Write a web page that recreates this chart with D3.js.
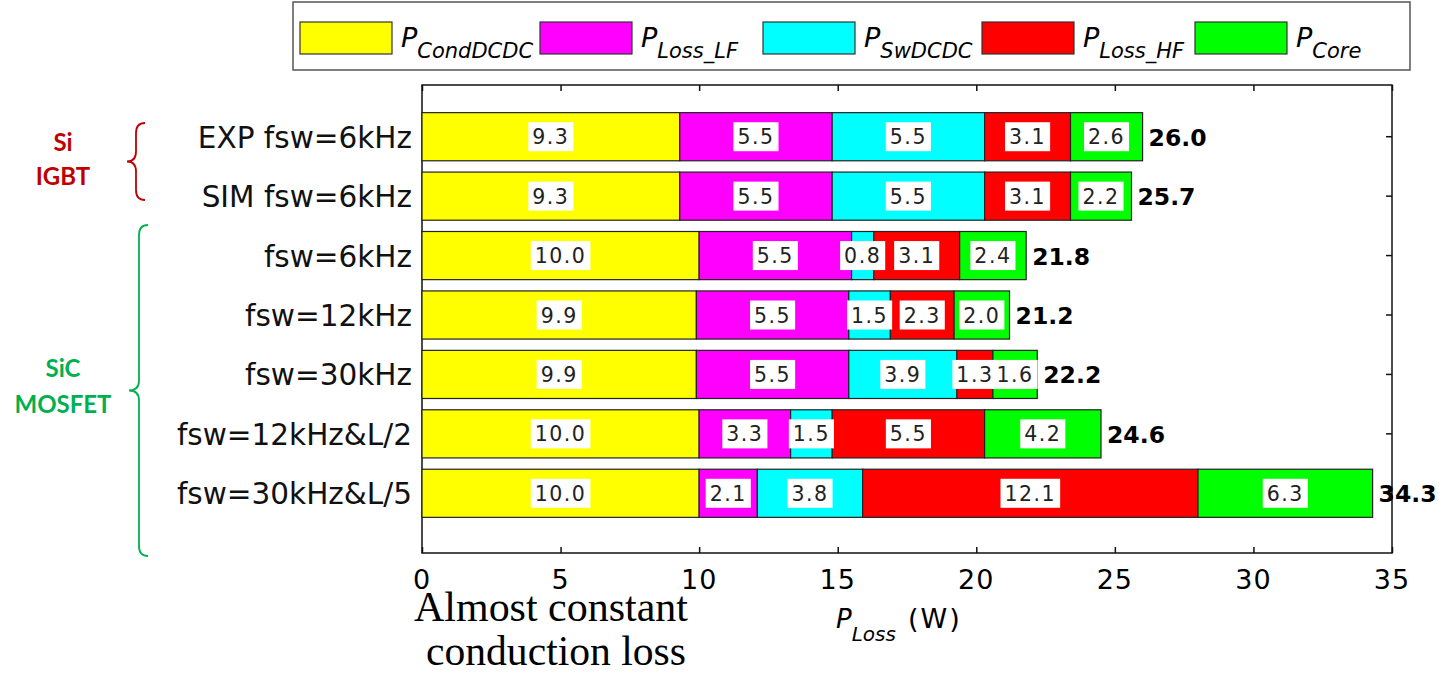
<!DOCTYPE html>
<html>
<head>
<meta charset="utf-8">
<script src="https://cdn.jsdelivr.net/npm/d3@7"></script>
<style>
  body { margin: 0; background: #fff; }
  .sans { font-family: "DejaVu Sans", Verdana, sans-serif; }
</style>
</head>
<body>
<div id="chart"></div>
<script>
const W = 1439, H = 677;

const categories = ["EXP fsw=6kHz", "SIM fsw=6kHz", "fsw=6kHz", "fsw=12kHz", "fsw=30kHz", "fsw=12kHz&L/2", "fsw=30kHz&L/5"];
const condDCDC = [9.3, 9.3, 10.0, 9.9, 9.9, 10.0, 10.0];
const lossLF   = [5.5, 5.5, 5.5, 5.5, 5.5, 3.3, 2.1];
const swDCDC   = [5.5, 5.5, 0.8, 1.5, 3.9, 1.5, 3.8];
const lossHF   = [3.1, 3.1, 3.1, 2.3, 1.3, 5.5, 12.1];
const core     = [2.6, 2.2, 2.4, 2.0, 1.6, 4.2, 6.3];
const totals   = [26.0, 25.7, 21.8, 21.2, 22.2, 24.6, 34.3];
const xTicks = [0, 5, 10, 15, 20, 25, 30, 35];

const seriesNames = ["CondDCDC", "Loss_LF", "SwDCDC", "Loss_HF", "Core"];
const seriesColors = ["#ffff00", "#ff00ff", "#00ffff", "#ff0000", "#00ff00"];
const seriesValues = [condDCDC, lossLF, swDCDC, lossHF, core];

const svg = d3.select("#chart").append("svg")
  .attr("width", W)
  .attr("height", H)

const x = d3.scaleLinear().domain([0, 35]).range([422, 1392]);
const y = d3.scaleBand().domain(categories).range([107, 523]).paddingInner(0.19).paddingOuter(0.095);
const plotTop = 85, plotBottom = 553;

// plot frame
svg.append("rect")
  .attr("x", x(0)).attr("y", plotTop)
  .attr("width", x(35) - x(0)).attr("height", plotBottom - plotTop)
  .attr("fill", "none").attr("stroke", "#111").attr("stroke-width", 1.5)

// ticks on bottom, top, right
svg.append("g").attr("transform", `translate(0,${plotBottom})`)
  .call(d3.axisBottom(x).tickValues(xTicks).tickSize(-6).tickFormat(""))
  .call(g => g.select(".domain").remove())
svg.append("g").attr("transform", `translate(0,${plotTop})`)
  .call(d3.axisTop(x).tickValues(xTicks).tickSize(-6).tickFormat(""))
  .call(g => g.select(".domain").remove())
svg.append("g").attr("transform", `translate(${x(35)},0)`)
  .call(d3.axisRight(y).tickSize(-6).tickFormat(""))
  .call(g => g.select(".domain").remove())
svg.selectAll(".tick line").attr("stroke", "#111").attr("stroke-width", 1.5)

// tick labels
svg.selectAll(".xlab").data(xTicks).enter().append("text")
  .attr("class", "sans")
  .attr("x", d => x(d)).attr("y", 589)
  .attr("text-anchor", "middle")
  .attr("font-size", 27)
  .attr("letter-spacing", 1)
  .attr("fill", "#000")
  .text(d => d)

// category labels
svg.selectAll(".ylab").data(categories).enter().append("text")
  .attr("class", "sans")
  .attr("x", 412).attr("y", d => y(d) + y.bandwidth() / 2 + 11)
  .attr("text-anchor", "end")
  .attr("font-size", 29.5)
  .attr("fill", "#111")
  .text(d => d)

// stacked bars
const stack = categories.map((c, i) => {
  let acc = 0;
  return seriesValues.map((vals, s) => {
    const seg = { cat: c, s: s, v: vals[i], x0: acc, x1: acc + vals[i] };
    acc += vals[i];
    return seg;
  });
});

const rows = svg.selectAll(".row").data(stack).enter().append("g");

rows.selectAll("rect").data(d => d).enter().append("rect")
  .attr("x", d => x(d.x0))
  .attr("y", d => y(d.cat))
  .attr("width", d => x(d.x1) - x(d.x0))
  .attr("height", y.bandwidth())
  .attr("fill", d => seriesColors[d.s])
  .attr("stroke", "#222")
  .attr("stroke-width", 1.2)

// value labels with white boxes
rows.selectAll(".vl").data(d => d).enter().append("g")
  .each(function(d) {
    const g = d3.select(this);
    const cx = (x(d.x0) + x(d.x1)) / 2, cy = y(d.cat) + y.bandwidth() / 2;
    const box = g.append("rect").attr("fill", "#fff");
    const t = g.append("text")
      .attr("class", "sans")
      .attr("x", cx).attr("y", cy + 7.5)
      .attr("text-anchor", "middle")
      .attr("font-size", 20.5)
      .attr("letter-spacing", 1.5)
      .attr("fill", "#222")
      .text(d.v.toFixed(1));
    const w = t.node().getComputedTextLength() + 8;
    box.attr("x", cx - w / 2).attr("y", cy - 14.5).attr("width", w).attr("height", 29);
  })

// totals
svg.selectAll(".tot").data(categories).enter().append("text")
  .attr("class", "sans")
  .attr("x", (d, i) => x(d3.sum(seriesValues, v => v[i])) + 6)
  .attr("y", d => y(d) + y.bandwidth() / 2 + 9)
  .attr("font-weight", "bold")
  .attr("font-size", 23.5)
  .attr("fill", "#000")
  .text((d, i) => totals[i].toFixed(1))

// legend
svg.append("rect")
  .attr("x", 293).attr("y", 2).attr("width", 1117).attr("height", 68)
  .attr("fill", "#fff").attr("stroke", "#555").attr("stroke-width", 1.5)
const legX = [300, 540, 763, 982, 1195];
seriesNames.forEach((n, i) => {
  svg.append("rect")
    .attr("x", legX[i]).attr("y", 22).attr("width", 92).attr("height", 32)
    .attr("fill", seriesColors[i]).attr("stroke", "#333").attr("stroke-width", 1.2)
  const t = svg.append("text").attr("class", "sans")
    .attr("x", legX[i] + 101).attr("y", 47)
    .attr("font-style", "italic").attr("fill", "#000")
  t.append("tspan").attr("font-size", 27).text("P")
  t.append("tspan").attr("font-size", 21).attr("dy", 11).text(n)
});

// x axis title
const xt = svg.append("text").attr("class", "sans")
  .attr("x", 836).attr("y", 628).attr("fill", "#000")
xt.append("tspan").attr("font-size", 26).attr("font-style", "italic").text("P")
xt.append("tspan").attr("font-size", 20).attr("font-style", "italic").attr("dy", 13).text("Loss")
xt.append("tspan").attr("font-size", 27).attr("dy", -13).attr("dx", 12).attr("letter-spacing", 2).text("(W)")

// group braces
function brace(x1, xm, xt, y1, y2, color) {
  const ym = (y1 + y2) / 2, r = 10;
  svg.append("path")
    .attr("d", `M${x1},${y1} Q${xm},${y1} ${xm},${y1 + r} L${xm},${ym - r} Q${xm},${ym} ${xt},${ym} Q${xm},${ym} ${xm},${ym + r} L${xm},${y2 - r} Q${xm},${y2} ${x1},${y2}`)
    .attr("fill", "none").attr("stroke", color).attr("stroke-width", 1.8)
}
brace(145, 136, 127, 123, 200, "#c00000");
brace(148, 139, 129, 225, 556, "#00b050");

const groupText = [
  { lines: ["Si", "IGBT"], y: [151, 185], color: "#c00000" },
  { lines: ["SiC", "MOSFET"], y: [377, 413], color: "#00b050" }
];
groupText.forEach(g => {
  g.lines.forEach((l, i) => {
    svg.append("text")
      .attr("x", 63).attr("y", g.y[i])
      .attr("text-anchor", "middle")
      .attr("font-family", "Lato, Open Sans, sans-serif")
      .attr("font-weight", "bold")
      .attr("font-size", 24)
      .attr("fill", g.color)
      .text(l)
  })
})

// annotation
const note = ["Almost constant", "conduction loss"];
const noteLen = [274, 260];
note.forEach((l, i) => {
  svg.append("text")
    .attr("x", i === 0 ? 414 : 426).attr("y", 621 + i * 44)
    .attr("font-family", "Liberation Serif, Times New Roman, serif")
    .attr("font-size", 42)
    .attr("textLength", noteLen[i])
    .attr("lengthAdjust", "spacingAndGlyphs")
    .attr("fill", "#000")
    .text(l)
})
</script>
</body>
</html>
